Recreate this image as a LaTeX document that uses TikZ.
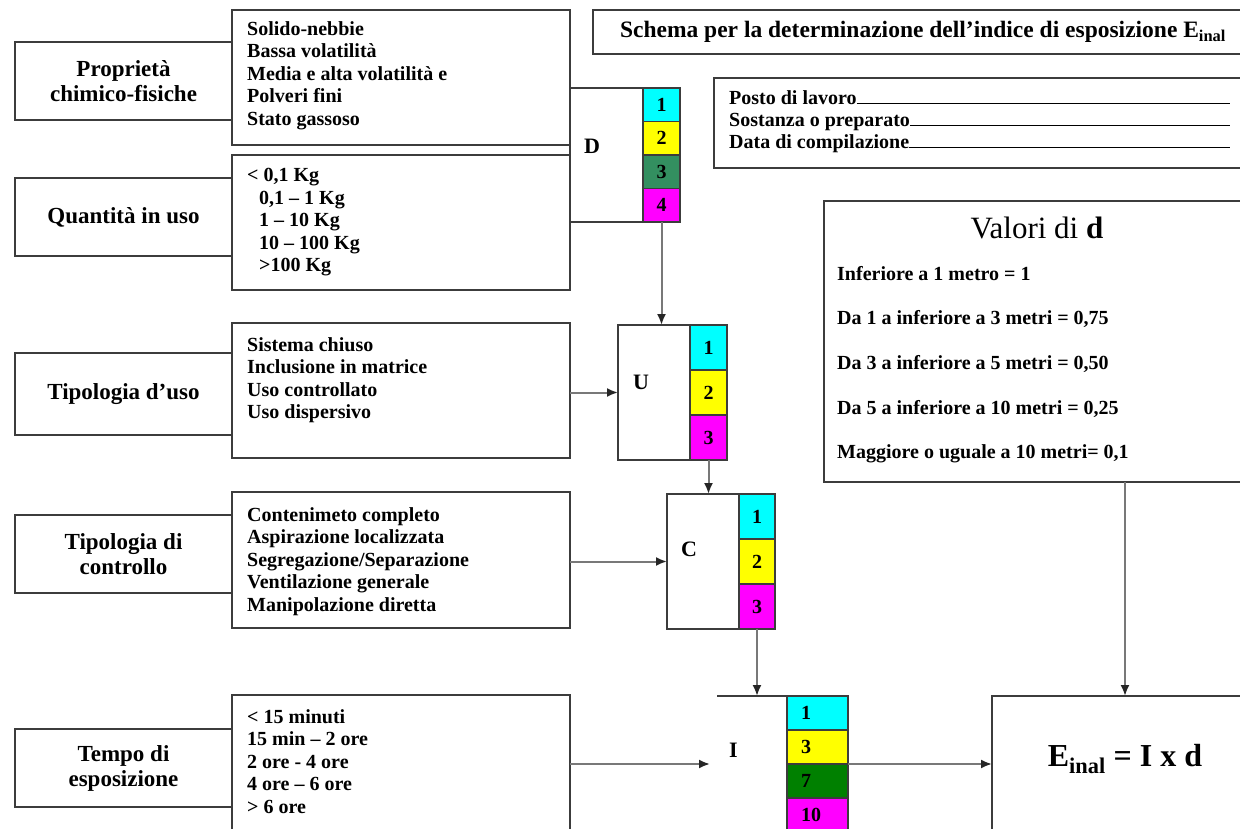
\documentclass[tikz,border=0pt]{standalone}
\usepackage{fontspec}
\setmainfont{Liberation Serif}
\usepackage{tikz}
\usetikzlibrary{arrows.meta, positioning, calc}
\definecolor{cellcyan}{RGB}{0,255,255}
\definecolor{cellyellow}{RGB}{255,255,0}
\definecolor{cellmagenta}{RGB}{255,0,255}
\definecolor{seagreen}{RGB}{51,143,96}
\definecolor{leafgreen}{RGB}{0,128,0}
\definecolor{boxline}{RGB}{60,60,60}
\definecolor{arrowgray}{RGB}{120,120,120}
\newcommand{\blankline}{\leavevmode\leaders\hrule height 1.3pt\hfill\kern0pt}

\begin{document}
\begin{tikzpicture}[x=1pt, y=-1pt,
        frame/.style={draw=boxline, line width=1.3pt, anchor=north west, inner sep=0pt, outer sep=0pt},
        labelbox/.style={frame, minimum width=217, align=center, font=\fontsize{23}{25}\selectfont\bfseries},
        listbox/.style={frame, minimum width=338},
        listtext/.style={anchor=north west, align=left, inner sep=0pt, font=\fontsize{20}{22.5}\selectfont\bfseries},
        cell/.style={frame, font=\fontsize{20}{20}\selectfont\bfseries},
        tag/.style={anchor=west, inner sep=0pt, font=\fontsize{22}{22}\selectfont\bfseries},
        arrow/.style={draw=arrowgray, line width=2pt, -{Latex[length=11pt, width=9pt, black!85]}}
    ]
        \useasboundingbox (0,0) rectangle (1240,829);

        % header
        \node[frame, minimum width=660, minimum height=44, font=\fontsize{23.5}{24}\selectfont\bfseries] (title) at (593,10) {Schema per la determinazione dell'indice di esposizione E\textsubscript{inal}};
        \node[frame, minimum width=540, minimum height=90] (info) at (714,78) {};
        \node[listtext, font=\fontsize{20}{22}\selectfont\bfseries] (infotext) at ([shift={(15,12)}]info.north west)
            {\makebox[501pt][l]{Posto di lavoro\blankline}\\
             \makebox[501pt][l]{Sostanza o preparato\blankline}\\
             \makebox[501pt][l]{Data di compilazione\blankline}};

        % factors
        \node[labelbox, minimum height=78] (prop) at (15,42) {Proprietà\\chimico-fisiche};
        \node[labelbox, minimum height=78] (qty) at (15,178) {Quantità in uso};
        \node[labelbox, minimum height=82] (uso) at (15,353) {Tipologia d'uso};
        \node[labelbox, minimum height=78] (ctrl) at (15,515) {Tipologia di\\controllo};
        \node[labelbox, minimum height=78] (tempo) at (15,729) {Tempo di\\esposizione};

        \node[listbox, minimum height=135] (plist) at (232,10) {};
        \node[listbox, minimum height=135] (qlist) at (232,155) {};
        \node[listbox, minimum height=135] (ulist) at (232,323) {};
        \node[listbox, minimum height=136] (clist) at (232,492) {};
        \node[listbox, minimum height=140] (tlist) at (232,695) {};

        \node[listtext] (ptext) at ([shift={(15,11)}]plist.north west)
            {Solido-nebbie\\Bassa volatilità\\Media e alta volatilità e\\Polveri fini\\Stato gassoso};
        \node[listtext] (qtext) at ([shift={(15,13)}]qlist.north west)
            {< 0,1 Kg\\\hspace*{12pt}0,1 -- 1 Kg\\\hspace*{12pt}1 -- 10 Kg\\\hspace*{12pt}10 -- 100 Kg\\\hspace*{12pt}>100 Kg};
        \node[listtext] (utext) at ([shift={(15,14)}]ulist.north west)
            {Sistema chiuso\\Inclusione in matrice\\Uso controllato\\Uso dispersivo};
        \node[listtext] (ctext) at ([shift={(15,15)}]clist.north west)
            {Contenimeto completo\\Aspirazione localizzata\\Segregazione/Separazione\\Ventilazione generale\\Manipolazione diretta};
        \node[listtext] (ttext) at ([shift={(15,14)}]tlist.north west)
            {< 15 minuti\\15 min -- 2 ore\\2 ore - 4 ore\\4 ore -- 6 ore\\> 6 ore};

        % indices
        \node[frame, minimum width=73, minimum height=134] (dbox) at (570,88) {};
        \foreach \v/\c [count=\i] in {1/cellcyan, 2/cellyellow, 3/seagreen, 4/cellmagenta}
            \node[cell, fill=\c, minimum width=37, minimum height=33.5, yshift={-33.5*(\i-1)}] (d\i) at (dbox.north east) {\v};
        \node[tag] (dtag) at ([xshift=14pt, yshift=9pt]dbox.west) {D};

        \node[frame, minimum width=72, minimum height=135] (ubox) at (618,325) {};
        \foreach \v/\c [count=\i] in {1/cellcyan, 2/cellyellow, 3/cellmagenta}
            \node[cell, fill=\c, minimum width=37, minimum height=45, yshift={-45*(\i-1)}] (u\i) at (ubox.north east) {\v};
        \node[tag] (utag) at ([xshift=15pt, yshift=10pt]ubox.west) {U};

        \node[frame, minimum width=72, minimum height=135] (cbox) at (667,494) {};
        \foreach \v/\c [count=\i] in {1/cellcyan, 2/cellyellow, 3/cellmagenta}
            \node[cell, fill=\c, minimum width=36, minimum height=45, yshift={-45*(\i-1)}] (c\i) at (cbox.north east) {\v};
        \node[tag] (ctag) at ([xshift=14pt, yshift=12pt]cbox.west) {C};

        \node[frame, draw=none, minimum width=70, minimum height=136] (ibox) at (717,696) {};
        \draw[boxline, line width=1.3pt] (ibox.north west) -- (ibox.north east);
        \foreach \v/\c [count=\i] in {1/cellcyan, 3/cellyellow, 7/leafgreen, 10/cellmagenta}
            \node[cell, fill=\c, minimum width=61, minimum height=34, text width=33, align=left, inner xsep=14, yshift={-34*(\i-1)}] (i\i) at (ibox.north east) {\v};
        \node[tag] (itag) at ([xshift=12pt, yshift=14pt]ibox.west) {I};

        % distance
        \node[frame, minimum width=426, minimum height=281] (dval) at (824,201) {};
        \node[font=\fontsize{31}{31}\selectfont] (dtitle) at ([yshift=-27pt]dval.north) {Valori di \textbf{d}};
        \foreach \txt [count=\k] in {{Inferiore a 1 metro = 1}, {Da 1 a inferiore a 3 metri = 0,75}, {Da 3 a inferiore a 5 metri = 0,50}, {Da 5 a inferiore a 10 metri = 0,25}, {Maggiore o uguale a 10 metri= 0,1}}
            \node[listtext, anchor=west] (dv\k) at ([shift={(13,{73+45*(\k-1)})}]dval.north west) {\txt};

        \node[frame, minimum width=266, minimum height=140] (ebox) at (992,696) {};
        \node[font=\fontsize{32}{32}\selectfont\bfseries] (eform) at ([yshift=7pt]ebox.center) {E\textsubscript{inal} = I x d};

        \draw[arrow] (d4.south) -- (d4.south |- ubox.north);
        \draw[arrow] (ulist.east |- ubox.west) -- (ubox.west);
        \draw[arrow] (u3.south) -- (u3.south |- cbox.north);
        \draw[arrow] (clist.east |- cbox.west) -- (cbox.west);
        \draw[arrow] (c3.south) -- (c3.south |- ibox.north);
        \draw[arrow] (tlist.east |- ibox.west) -- ([xshift=-7pt]ibox.west);
        \draw[arrow] (i2.south east) -- (i2.south east -| ebox.west);
        \draw[arrow] (dval.south -| ebox.north) -- (ebox.north);
    \end{tikzpicture}
\end{document}
